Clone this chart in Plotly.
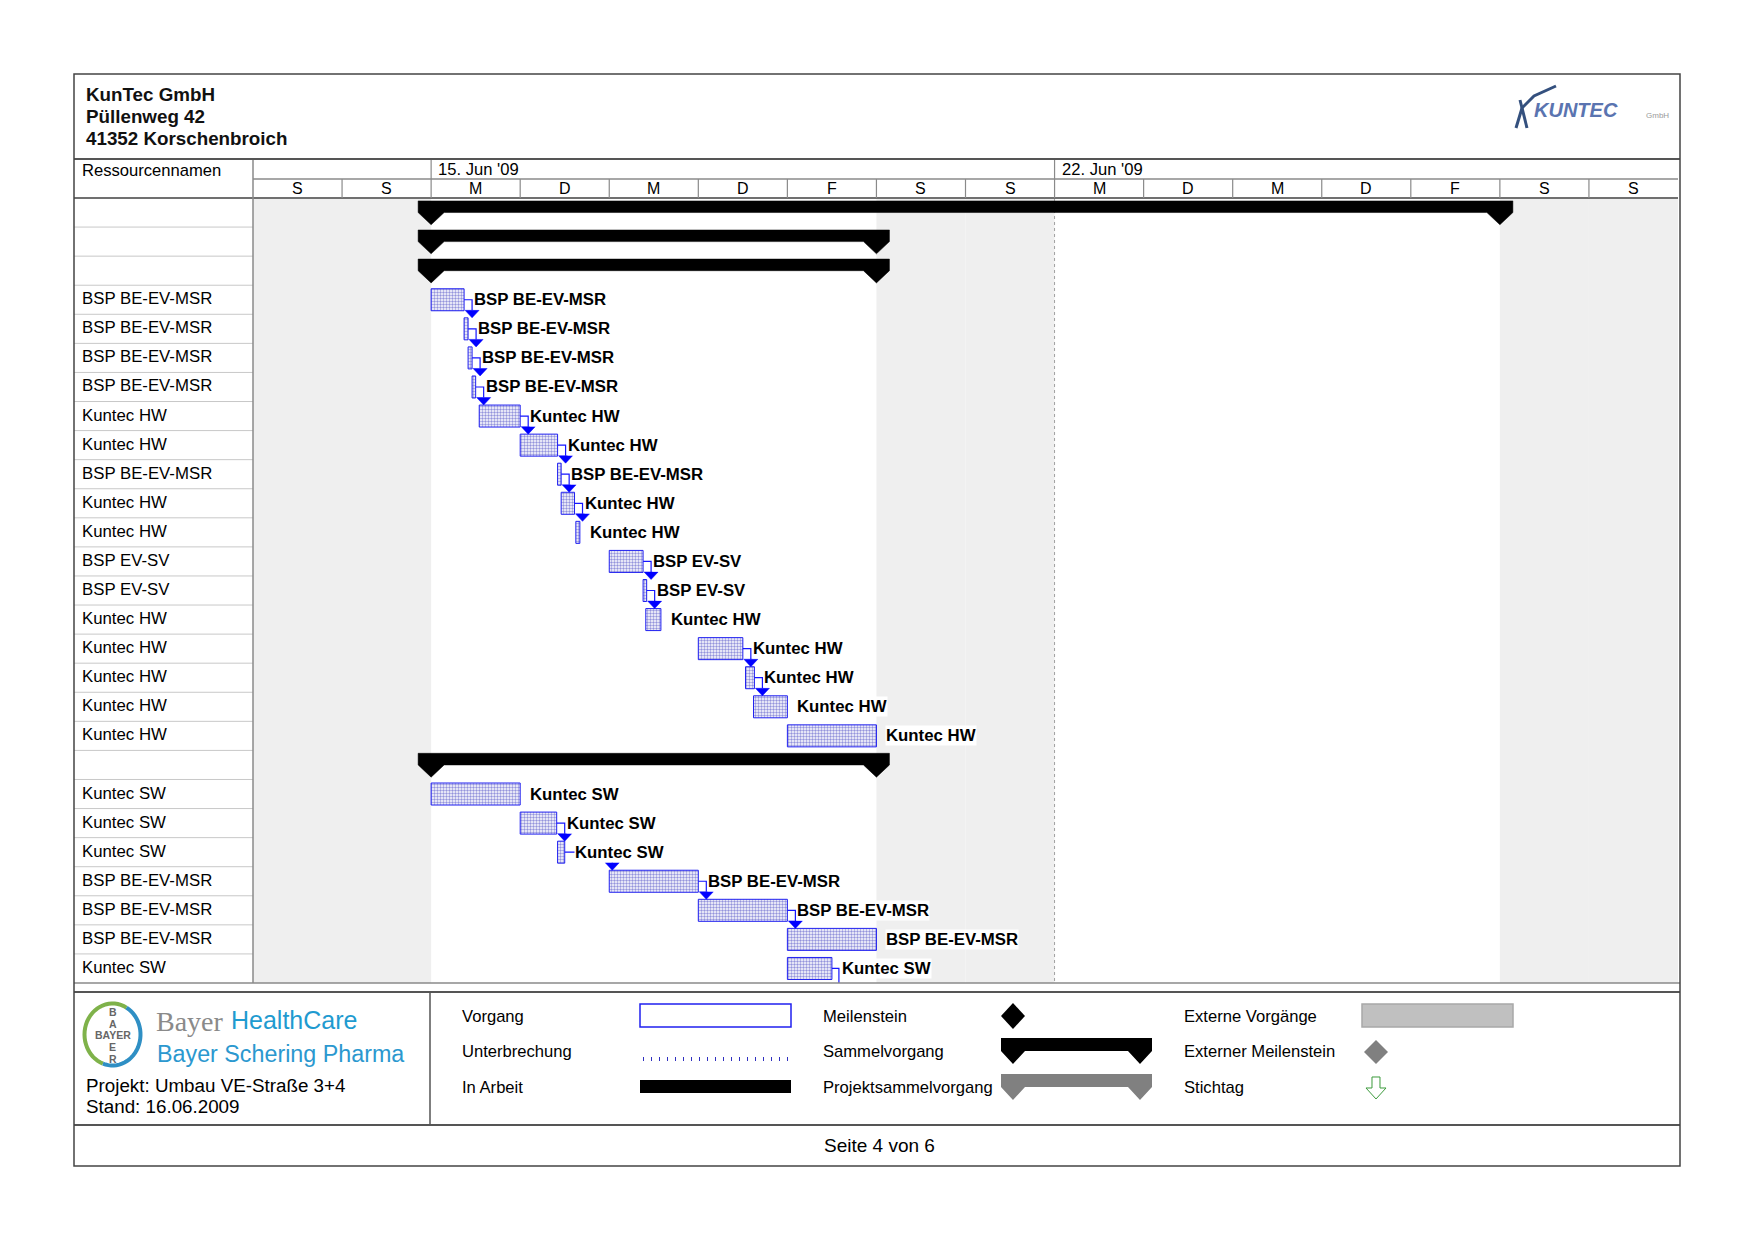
import math
import plotly.graph_objects as go

W, H = 1754, 1240
SANS = "Liberation Sans, Arial, sans-serif"
SERIF = "Liberation Serif, Times New Roman, serif"

# ---------------- data ----------------
day_letters = ["S", "S", "M", "D", "M", "D", "F", "S", "S", "M", "D", "M", "D", "F", "S", "S"]
week_labels = ["15. Jun '09", "22. Jun '09"]
week_start_day = [2, 9]
weekend_days = [0, 1, 7, 8, 14, 15]
status_day = 9

resource_names = [
    "", "", "",
    "BSP BE-EV-MSR", "BSP BE-EV-MSR", "BSP BE-EV-MSR", "BSP BE-EV-MSR",
    "Kuntec HW", "Kuntec HW", "BSP BE-EV-MSR", "Kuntec HW", "Kuntec HW",
    "BSP EV-SV", "BSP EV-SV",
    "Kuntec HW", "Kuntec HW", "Kuntec HW", "Kuntec HW", "Kuntec HW",
    "",
    "Kuntec SW", "Kuntec SW", "Kuntec SW",
    "BSP BE-EV-MSR", "BSP BE-EV-MSR", "BSP BE-EV-MSR", "Kuntec SW",
]

# task bars (day offsets from Sa 13 Jun 00:00)
task_row = [3, 4, 5, 6, 7, 8, 9, 10, 11, 12, 13, 14, 15, 16, 17, 18, 20, 21, 22, 23, 24, 25, 26]
task_start = [2.0, 2.37, 2.415, 2.46, 2.54, 3.0, 3.42, 3.46, 3.625, 4.0, 4.38, 4.41,
              5.0, 5.53, 5.62, 6.0, 2.0, 3.0, 3.42, 4.0, 5.0, 6.0, 6.0]
task_end = [2.37, 2.415, 2.46, 2.50, 3.0, 3.42, 3.46, 3.61, 3.67, 4.38, 4.42, 4.58,
            5.5, 5.63, 6.0, 7.0, 3.0, 3.41, 3.5, 5.0, 6.0, 7.0, 6.5]

# summary bars
summary_row = [0, 1, 2, 19]
summary_start = [2, 2, 2, 2]
summary_end = [14, 7, 7, 7]

# finish-to-start links (27 = continues on next page)
link_from = [3, 4, 5, 6, 7, 8, 9, 10, 12, 13, 15, 16, 21, 22, 23, 24, 26]
link_to = [4, 5, 6, 7, 8, 9, 10, 11, 13, 14, 16, 17, 22, 23, 24, 25, 27]

legend_col1 = ["Vorgang", "Unterbrechung", "In Arbeit"]
legend_col2 = ["Meilenstein", "Sammelvorgang", "Projektsammelvorgang"]
legend_col3 = ["Externe Vorgänge", "Externer Meilenstein", "Stichtag"]

# ---------------- geometry ----------------
GX0, GX1 = 253, 1678
GY0, GY1 = 198, 983
NDAYS = len(day_letters)
NROWS = len(resource_names)
DAY_PX = (GX1 - GX0) / NDAYS
ROW_PX = (GY1 - GY0) / NROWS

row_of = {r: i for i, r in enumerate(task_row)}


def X(px):
    return px / W


def Y(py):
    return 1 - py / H


shapes = []
ann = []


def line(x0, y0, x1, y1, color, w=1, dash=None, layer="above"):
    d = dict(type="line", xref="paper", yref="paper", x0=X(x0), y0=Y(y0), x1=X(x1), y1=Y(y1),
             line=dict(color=color, width=w), layer=layer)
    if dash:
        d["line"]["dash"] = dash
    shapes.append(d)


def rect(x0, y0, x1, y1, fill, lc=None, lw=0):
    shapes.append(dict(type="rect", xref="paper", yref="paper", x0=X(x0), y0=Y(y0), x1=X(x1), y1=Y(y1),
                       fillcolor=fill, line=dict(color=lc or fill, width=lw)))


def poly(pts, fill, lc=None, lw=0, closed=True):
    p = "M " + " L ".join("%f,%f" % (X(a), Y(b)) for a, b in pts) + (" Z" if closed else "")
    d = dict(type="path", xref="paper", yref="paper", path=p, line=dict(color=lc or fill, width=lw))
    if fill:
        d["fillcolor"] = fill
    shapes.append(d)


def text(x, y, s, size, bold=False, color="#000", anchor="left", family=SANS, bg=None):
    d = dict(x=X(x), y=Y(y), xref="paper", yref="paper", text=("<b>%s</b>" % s if bold else s),
             showarrow=False, xanchor=anchor, yanchor="middle",
             font=dict(size=size, color=color, family=family))
    if bg:
        d.update(bgcolor=bg, borderpad=0)
    ann.append(d)


fig = go.Figure()

# ---------------- gantt data marks ----------------
for d in weekend_days:
    shapes.append(dict(type="rect", xref="x", yref="y", x0=d, x1=d + 1, y0=0, y1=NROWS,
                       fillcolor="#efefef", line=dict(width=0), layer="below"))
shapes.append(dict(type="line", xref="x", yref="y", x0=status_day, x1=status_day, y0=0, y1=NROWS,
                   line=dict(color="#a0a0a0", width=1, dash="dot"), layer="below"))

# summary bars
cap = 13 / DAY_PX
sx, sy = [], []
for r, s, e in zip(summary_row, summary_start, summary_end):
    top, mid, tip = r + 0.10, r + 0.50, r + 0.92
    pts = [(s - cap, top), (e + cap, top), (e + cap, mid), (e, tip), (e - cap, mid),
           (s + cap, mid), (s, tip), (s - cap, mid), (s - cap, top)]
    for a, b in pts:
        sx.append(a)
        sy.append(b)
    sx.append(None)
    sy.append(None)
fig.add_trace(go.Scatter(x=sx, y=sy, mode="lines", fill="toself", fillcolor="black",
                         line=dict(color="black", width=0.5), hoverinfo="skip", showlegend=False))

# task bars
fig.add_trace(go.Bar(
    orientation="h",
    y=[r + 0.5 for r in task_row],
    base=task_start,
    x=[e - s for s, e in zip(task_start, task_end)],
    width=0.757,
    marker=dict(color="white", line=dict(color="#2020f0", width=1),
                pattern=dict(shape=".", fgcolor="#2a2ab8", bgcolor="white", size=3, solidity=0.5)),
    hoverinfo="skip", showlegend=False))

# links
lx_all, ly_all, ax, ay = [], [], [], []
aw = 7 / DAY_PX
ah = 7.5 / ROW_PX
for a, b in zip(link_from, link_to):
    pe = task_end[row_of[a]]
    if b in row_of:
        ss = task_start[row_of[b]]
        lx = max(pe + 8 / DAY_PX, ss + 3 / DAY_PX)
        tipy = b + 0.5 - 0.757 / 2
        lx_all += [pe, lx, lx, None]
        ly_all += [a + 0.5, a + 0.5, tipy - ah, None]
        ax += [lx - aw, lx + aw, lx, lx - aw, None]
        ay += [tipy - ah, tipy - ah, tipy, tipy - ah, None]
    else:
        lx = pe + 7 / DAY_PX
        lx_all += [pe, lx, lx, None]
        ly_all += [a + 0.5, a + 0.5, NROWS, None]
fig.add_trace(go.Scatter(x=lx_all, y=ly_all, mode="lines", line=dict(color="#1515ff", width=1.2),
                         hoverinfo="skip", showlegend=False))
fig.add_trace(go.Scatter(x=ax, y=ay, mode="lines", fill="toself", fillcolor="#0000ff",
                         line=dict(color="#0000ff", width=0.5), hoverinfo="skip", showlegend=False))

# bar labels
for r, e in zip(task_row, task_end):
    ann.append(dict(x=e + 9 / DAY_PX, y=r + 0.5, xref="x", yref="y", text="<b>%s</b>" % resource_names[r],
                    showarrow=False, xanchor="left", yanchor="middle", bgcolor="white", borderpad=0,
                    font=dict(size=16.8, color="black", family=SANS)))

# ---------------- table / frame ----------------
for i, name in enumerate(resource_names):
    yc = GY0 + (i + 0.5) * ROW_PX
    if name:
        text(80, yc - 1, name, 16.8)
for i in range(1, NROWS):
    y = GY0 + i * ROW_PX
    line(74, y, GX0, y, "#c8c8c8", 1)

# timescale
line(GX0, 179, GX1, 179, "#8a8a8a", 1.5)
line(74, GY0, GX1, GY0, "#707070", 2)
line(GX0, 159, GX0, GY1, "#8a8a8a", 1.5)
for k, lab in zip(week_start_day, week_labels):
    xb = GX0 + k * DAY_PX
    line(xb, 159, xb, 179, "#8a8a8a", 1.2)
    text(xb + 5, 169.5, lab, 16.6)
for k, lab in enumerate(day_letters):
    if k > 0:
        xb = GX0 + k * DAY_PX
        line(xb, 179, xb, GY0, "#8a8a8a", 1.2)
    text(GX0 + (k + 0.5) * DAY_PX, 189, lab, 16, anchor="center")
text(80, 170, "Ressourcennamen", 16.6)

# header
line(74, 159, 1680, 159, "#555555", 2)
text(84, 94, "KunTec GmbH", 18.8, bold=True, color="#111")
text(84, 116.5, "Püllenweg 42", 18.8, bold=True, color="#111")
text(84, 139, "41352 Korschenbroich", 18.8, bold=True, color="#111")

# KunTec logo (approximation)
poly([(1516, 128), (1522, 108), (1534, 96), (1556, 86)], None, "#34507e", 3, closed=False)
poly([(1520, 100), (1527, 128)], None, "#34507e", 3, closed=False)
text(1532, 110, "<i>KUNTEC</i>", 20, bold=True, color="#5a74b0")
text(1644, 115, "GmbH", 8, color="#9a9a9a")

# gantt bottom / legend / footer lines
line(74, GY1, 1680, GY1, "#8a8a8a", 1.5)
line(74, 992, 1680, 992, "#555555", 2)
line(430, 992, 430, 1125, "#555555", 1.5)
line(74, 1125, 1680, 1125, "#555555", 2)
rect(74, 74, 1680, 1166, "rgba(0,0,0,0)", "#444444", 1.5)

# Bayer logo (approximation)
cx, cy, rx, ry = 112.5, 1034.5, 28, 31


def arc(a0, a1, n=30):
    return [(cx + rx * math.cos(math.radians(a0 + (a1 - a0) * t / n)),
             cy - ry * math.sin(math.radians(a0 + (a1 - a0) * t / n))) for t in range(n + 1)]


poly(arc(60, 250), None, "#7fb24a", 4, closed=False)
poly(arc(250, 420), None, "#2f8fc4", 4, closed=False)
text(112.5, 1035, "<b>BAYER</b>", 10.5, color="#666", anchor="center")
for lab, yy in zip(["B", "A", "E", "R"], [1012, 1023.5, 1047, 1059]):
    text(112.5, yy, "<b>%s</b>" % lab, 10.5, color="#666", anchor="center")
text(154, 1021, "Bayer", 28, color="#8a8a8a", family=SERIF)
text(229, 1020, "HealthCare", 25, color="#1f9bd0")
text(155, 1054, "Bayer Schering Pharma", 23.3, color="#2b98cf")
text(84, 1085, "Projekt: Umbau VE-Straße 3+4", 18.8)
text(84, 1106, "Stand: 16.06.2009", 18.8)

# legend
ly = [1016, 1051.5, 1087]
for s, yy in zip(legend_col1, ly):
    text(460, yy, s, 16.6)
for s, yy in zip(legend_col2, ly):
    text(821, yy, s, 16.6)
for s, yy in zip(legend_col3, ly):
    text(1182, yy, s, 16.6)

rect(640, 1004, 791, 1027, "white", "#2020f0", 1.5)
line(643, 1059, 791, 1059, "#3030c0", 4, dash="1px,7px")
rect(640, 1080, 791, 1093, "black")
poly([(1013, 1003), (1025, 1016), (1013, 1029), (1001, 1016)], "black")


def summ_legend(L, R, top, mid, tip, color):
    c = 12
    poly([(L, top), (R, top), (R, mid), (R - c, tip), (R - 2 * c, mid), (L + 2 * c, mid),
          (L + c, tip), (L, mid)], color)


summ_legend(1001, 1152, 1038, 1051, 1064, "black")
summ_legend(1001, 1152, 1074, 1087, 1100, "#808080")

rect(1362, 1004, 1513, 1027, "#c0c0c0", "#a8a8a8", 1.5)
poly([(1376, 1040), (1388, 1052), (1376, 1064), (1364, 1052)], "#808080")
poly([(1372, 1077), (1380, 1077), (1380, 1088), (1386, 1088), (1376, 1099), (1366, 1088), (1372, 1088)],
     "white", "#3c9a3c", 1)

text(822, 1145, "Seite 4 von 6", 19)

fig.update_layout(
    width=W, height=H,
    margin=dict(l=0, r=0, t=0, b=0),
    paper_bgcolor="white", plot_bgcolor="rgba(0,0,0,0)",
    barmode="overlay",
    xaxis=dict(domain=[X(GX0), X(GX1)], range=[0, NDAYS], visible=False, fixedrange=True),
    yaxis=dict(domain=[Y(GY1), Y(GY0)], range=[NROWS, 0], visible=False, fixedrange=True),
    shapes=shapes, annotations=ann, showlegend=False,
)

fig.write_html("out.html",
               config={"displayModeBar": False},
               post_script="document.body.style.margin='0';document.body.style.overflow='hidden';")
